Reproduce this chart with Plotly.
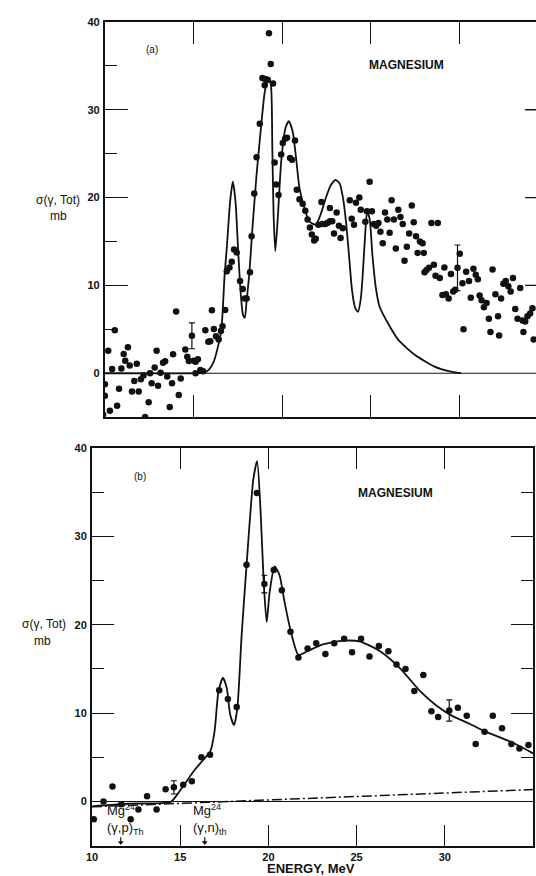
import plotly.graph_objects as go

W, H = 536, 876

# ---------------- Panel (a) data ----------------
a_energy = [9.9, 10.0, 10.0, 10.28, 10.19, 10.56, 10.41, 10.69, 10.8, 10.93, 11.06, 11.15, 11.3, 11.4,
            11.53, 11.66, 11.8, 11.91, 12.03, 12.18, 12.27, 12.47, 12.55, 12.64, 12.81, 12.92, 13.0,
            13.14, 13.28, 13.4, 13.52, 13.66, 13.79, 13.85, 14.02, 14.17, 14.28, 14.54, 14.65, 14.74,
            15.02, 15.12, 15.25, 15.12, 15.39, 15.54, 15.67, 15.84, 15.95, 16.04, 16.15, 16.27, 16.42,
            16.55, 16.64, 16.79,
            16.88, 17.03, 17.16, 17.29, 17.44, 17.63, 17.78, 17.9, 18.0, 18.19, 18.28, 18.43, 18.56,
            18.74, 18.89, 19.04, 19.19, 19.02, 19.49, 19.26, 19.36, 19.58, 19.67, 19.8, 19.95, 20.04,
            20.17, 20.28, 20.45, 20.56, 20.73,
            20.83, 20.98, 21.16, 21.31, 21.44, 21.57, 21.68, 21.81, 21.9, 22.05, 22.22, 22.28, 22.43,
            22.56, 22.7, 22.83, 22.7, 22.93, 23.08, 23.21, 23.3, 23.43, 23.82, 23.93, 24.06, 24.17,
            24.36, 24.44, 24.7, 24.79, 24.94, 25.07, 25.18, 25.31, 25.44, 25.55, 25.68, 25.81, 25.94,
            26.07, 26.18, 26.31, 26.42, 26.56, 26.68, 26.81, 26.91, 27.04, 27.17, 27.32, 27.43, 27.56,
            27.65, 27.78, 27.93, 28.0, 28.04, 28.15, 28.29, 28.43, 28.57, 28.66, 28.79, 28.9, 29.05,
            29.16, 29.25, 29.4, 29.53, 29.66, 29.77, 30.03, 30.18, 30.24, 30.39, 30.55, 30.65, 30.8,
            30.93, 31.05, 31.15, 31.26, 31.39, 31.54, 31.67, 31.76, 31.88, 32.04, 32.19, 32.25, 32.36,
            32.49, 32.62, 32.77, 32.9, 33.03, 33.16, 33.29, 33.44, 33.57, 33.62, 33.72, 33.85, 34.0,
            34.13, 34.2]
a_sigma = [-4.7, -1.25, -2.56, -4.26, 2.56, 4.9, 0.49, -3.7, -1.77, 0.53, 2.18, 1.43, 2.97, 0.87,
           -2.07, -0.87, 1.09, -2.07, -0.68, -0.26, -4.97, -3.31, 0.0, -1.13, 0.64, 2.56, -1.43,
           0.07, 1.2, 1.36, -0.38, -3.84, -1.13, 2.15, 7.04, -2.49, -0.6, 2.71, 1.88, 1.39,
           1.43, 1.32, 1.58, 0.0, 0.38, 0.23, 4.9, 3.58, 3.65, 7.16, 5.05, 4.22, 3.84,
           4.82, 5.35, 7.2,
           11.6, 12.05, 12.7, 14.1, 13.75, 10.5, 9.6, 8.5, 8.5, 11.5, 15.6, 20.45, 24.6,
           28.4, 33.6, 33.5, 33.4, 32.8, 33.0, 38.7, 35.2, 24.0, 21.5, 20.3, 24.9, 26.2,
           26.7, 26.8, 24.5, 24.3, 26.5,
           20.9, 19.8, 19.3, 18.5, 17.5, 16.6, 15.8, 15.1, 15.3, 16.9, 19.5, 17.0, 17.0,
           17.1, 17.3, 17.3, 18.8, 15.9, 18.3, 16.8, 15.4, 16.5, 19.7, 17.6, 16.9, 19.4,
           20.0, 18.6, 17.25, 18.45, 21.8, 18.45, 17.0, 16.8, 17.1, 16.1, 14.8, 18.3, 17.5,
           16.0, 19.7, 17.5, 14.2, 18.6, 17.8, 17.0, 12.8, 14.4, 15.9, 19.1, 17.2, 15.6,
           13.7, 15.0, 14.8, 13.7, 11.5, 11.75, 12.0, 17.1, 12.35, 11.1, 17.1, 10.85, 8.9,
           12.05, 9.0, 8.5, 11.3, 9.3, 9.5, 13.6, 10.25, 5.0, 11.55, 10.5, 8.6, 11.9,
           11.2, 10.7, 8.85, 8.3, 7.5, 8.0, 6.2, 4.7, 11.8, 9.0, 6.5, 4.3, 8.5,
           10.2, 10.5, 9.9, 9.3, 10.85, 7.3, 6.2, 9.7, 6.0, 4.7, 5.9, 6.5, 6.8,
           7.4, 3.85]
a_err_energy = [14.91, 29.9]
a_err_sigma = [4.26, 12.0]
a_err_size = [1.47, 2.6]

a_curve_energy = [10.0, 15.3, 15.58, 15.86, 16.14, 16.38, 16.57, 16.66, 16.75, 16.88, 17.07, 17.22,
                  17.37, 17.53, 17.68, 17.8, 17.9, 18.0, 18.15, 18.33, 18.56, 18.84, 19.02, 19.15,
                  19.26, 19.36, 19.45, 19.52, 19.62, 19.77, 19.95, 20.19, 20.38, 20.6, 20.79,
                  20.98, 21.26, 21.53, 21.9, 22.18, 22.46, 22.75, 23.02, 23.25, 23.45, 23.62,
                  23.77, 23.95, 24.13, 24.29, 24.45, 24.56, 24.68, 24.8, 24.94, 25.1, 25.3, 25.5,
                  26.0, 26.56, 27.49, 28.6, 29.6, 30.1]
a_curve_sigma = [0.0, 0.0, 0.05, 0.38, 1.3, 3.0, 4.9, 7.5, 11.0, 14.3, 19.6, 21.8,
                 19.6, 13.6, 8.7, 6.6, 6.3, 8.3, 11.3, 16.6, 22.6, 28.6, 32.0, 33.1,
                 33.3, 33.0, 25.6, 18.1, 13.9, 18.1, 24.1, 27.9, 28.7, 27.5, 24.5,
                 21.1, 18.8, 17.3, 16.9, 18.1, 19.9, 21.4, 22.0, 21.6, 19.8, 17.0,
                 13.6, 9.4, 7.4, 7.0, 8.6, 11.5, 15.5, 18.4, 17.6, 13.4, 9.6, 7.6,
                 5.6, 3.8, 2.1, 0.75, 0.15, 0.0]

# ---------------- Panel (b) data ----------------
b_energy = [10.1, 10.65, 11.16, 11.66, 12.19, 12.63, 13.12, 13.66, 14.17, 15.17, 15.66, 16.2, 16.69,
            17.21, 17.7, 18.2, 18.76, 19.34, 20.3, 20.76, 21.25, 21.7, 22.22, 22.71, 23.23, 23.73,
            24.29, 24.74, 25.25, 25.73, 26.26, 26.8, 27.26, 27.77, 28.27, 28.78, 29.24, 29.62,
            30.74, 31.24, 31.75, 32.25, 32.72, 33.24, 33.77, 34.23, 34.74]
b_sigma = [-2.0, 0.0, 1.7, -0.3, -2.0, -0.9, 0.6, -0.9, 1.4, 1.9, 2.3, 5.0, 5.3,
           12.6, 11.6, 10.7, 26.8, 34.9, 26.2, 23.9, 19.2, 16.3, 17.3, 17.9, 16.7, 17.9,
           18.4, 16.9, 18.4, 16.4, 17.6, 17.0, 15.5, 15.0, 12.5, 14.3, 10.2, 9.55,
           10.6, 9.7, 6.5, 7.9, 9.7, 8.3, 6.5, 6.0, 6.4]
b_err_energy = [14.64, 19.77, 30.25]
b_err_sigma = [1.6, 24.6, 10.3]
b_err_size = [0.75, 1.0, 1.2]

b_curve_energy = [10.0, 12.0, 14.45, 14.8, 15.12, 15.5, 15.87, 16.3, 16.71, 16.95, 17.17, 17.42,
                  17.64, 17.83, 18.05, 18.24, 18.48, 18.76, 19.14, 19.36, 19.55, 19.74, 19.9,
                  20.07, 20.35, 20.63, 20.91, 21.25, 21.7, 22.22, 22.97, 23.6, 24.27, 25.21, 26.33,
                  27.45, 28.57, 29.5, 30.44, 31.4, 32.31, 33.8, 35.0]
b_curve_sigma = [-0.55, -0.25, -0.05, 0.7, 1.6, 2.7, 3.7, 4.7, 5.7, 8.0, 12.5, 14.0,
                 12.8, 9.85, 8.65, 10.6, 18.8, 26.7, 36.4, 38.5, 33.1, 24.5, 20.3,
                 23.7, 26.6, 25.6, 22.6, 19.4, 16.6, 17.0, 17.7, 18.0, 18.2, 18.1, 17.0,
                 15.1, 12.55, 10.9, 9.66, 8.8, 7.9, 6.7, 5.45]

b_base_energy = [10.0, 35.0]
b_base_sigma = [-0.6, 1.35]

thresh_energy = [11.63, 16.39]
thresh_labels = ["Mg<sup>24</sup><br>(γ,p)<sub>Th</sub>", "Mg<sup>24</sup><br>(γ,n)<sub>th</sub>"]

y_ticks = [0, 10, 20, 30, 40]
a_x_ticks = [15, 20, 25, 30]
b_x_ticks = [10, 15, 20, 25, 30, 35]

# ---------------- layout helpers ----------------
def fx(p):
    return p / W

def fy(p):
    return 1 - p / H

FONT = "Liberation Sans"
BLACK = "#111111"

fig = go.Figure()

marker = dict(color=BLACK, size=6.5)
err_style = dict(type="data", visible=True, color=BLACK, thickness=1.2, width=3)

# panel a
fig.add_trace(go.Scatter(x=a_curve_energy, y=a_curve_sigma, mode="lines",
                         line=dict(color=BLACK, width=1.8, shape="spline", smoothing=0.6),
                         xaxis="x", yaxis="y", showlegend=False, hoverinfo="skip"))
fig.add_trace(go.Scatter(x=a_energy, y=a_sigma, mode="markers", marker=marker,
                         xaxis="x", yaxis="y", showlegend=False))
fig.add_trace(go.Scatter(x=a_err_energy, y=a_err_sigma, mode="markers", marker=marker,
                         error_y=dict(array=a_err_size, **err_style),
                         xaxis="x", yaxis="y", showlegend=False))

# panel b
fig.add_trace(go.Scatter(x=b_base_energy, y=b_base_sigma, mode="lines",
                         line=dict(color=BLACK, width=1.5, dash="10px,3px,2px,3px"),
                         xaxis="x2", yaxis="y2", showlegend=False, hoverinfo="skip"))
fig.add_trace(go.Scatter(x=b_curve_energy, y=b_curve_sigma, mode="lines",
                         line=dict(color=BLACK, width=1.8, shape="spline", smoothing=0.6),
                         xaxis="x2", yaxis="y2", showlegend=False, hoverinfo="skip"))
fig.add_trace(go.Scatter(x=b_energy, y=b_sigma, mode="markers", marker=marker,
                         xaxis="x2", yaxis="y2", showlegend=False))
fig.add_trace(go.Scatter(x=b_err_energy, y=b_err_sigma, mode="markers", marker=marker,
                         error_y=dict(array=b_err_size, **err_style),
                         xaxis="x2", yaxis="y2", showlegend=False))

# threshold arrow heads (small downward triangles at the axis)
fig.add_trace(go.Scatter(x=thresh_energy, y=[-4.65] * len(thresh_energy), mode="markers",
                         marker=dict(symbol="triangle-down", size=5, color=BLACK),
                         xaxis="x2", yaxis="y2", showlegend=False, hoverinfo="skip"))

A_XMAX = 10 + (W - 100) / 17.92

tickfont = dict(family=FONT, size=11, color=BLACK, weight="bold")

fig.update_layout(
    width=W, height=H,
    margin=dict(l=0, r=0, t=0, b=0),
    paper_bgcolor="white", plot_bgcolor="white",
    showlegend=False,
    xaxis=dict(domain=[fx(100), 1.0], range=[10, A_XMAX], anchor="y",
               tickvals=a_x_ticks, ticks="inside", ticklen=22, tickwidth=1.3, tickcolor=BLACK,
               showticklabels=False, showline=True, linewidth=2, linecolor=BLACK,
               mirror="ticks", showgrid=False, zeroline=False),
    yaxis=dict(domain=[fy(414), fy(16)], range=[-5, 40], anchor="x",
               tickvals=y_ticks, ticks="inside", ticklen=23, tickwidth=1.3, tickcolor=BLACK,
               minor=dict(dtick=5, tick0=0, ticks="inside", ticklen=12, tickwidth=1.3,
                          tickcolor=BLACK, showgrid=False),
               tickfont=tickfont, ticklabelstandoff=1,
               showline=True, linewidth=2, linecolor=BLACK, mirror=False,
               showgrid=False, zeroline=False),
    xaxis2=dict(domain=[fx(87), fx(533)], range=[10, 35], anchor="y2",
                tickvals=b_x_ticks, ticks="inside", ticklen=21, tickwidth=1.3, tickcolor=BLACK,
                tickfont=tickfont, showline=True, linewidth=2, linecolor=BLACK,
                mirror="ticks", showgrid=False, zeroline=False),
    yaxis2=dict(domain=[fy(845.5), fy(445)], range=[-5, 40], anchor="x2",
                tickvals=y_ticks, ticks="inside", ticklen=22, tickwidth=1.3, tickcolor=BLACK,
                minor=dict(dtick=5, tick0=0, ticks="inside", ticklen=12, tickwidth=1.3,
                           tickcolor=BLACK, showgrid=False),
                tickfont=tickfont, ticklabelstandoff=1,
                showline=True, linewidth=2, linecolor=BLACK, mirror="ticks",
                showgrid=False, zeroline=False),
)

# zero lines
fig.add_shape(type="line", xref="x domain", yref="y", x0=0, x1=1, y0=0, y1=0,
              line=dict(color=BLACK, width=1.2))
fig.add_shape(type="line", xref="x2 domain", yref="y2", x0=0, x1=1, y0=0, y1=0,
              line=dict(color=BLACK, width=1.2))

# right-hand ticks of panel (a) (its right axis lies beyond the cropped edge)
for v in [10, 20, 30]:
    fig.add_shape(type="line", xref="x", yref="y",
                  x0=A_XMAX - 11 / 17.92, x1=A_XMAX, y0=v, y1=v,
                  line=dict(color=BLACK, width=1.3))

# threshold arrow stems
for e in thresh_energy:
    fig.add_shape(type="line", xref="x2", yref="y2", x0=e, x1=e, y0=-4.6, y1=-4.05,
                  line=dict(color=BLACK, width=1.2))

txt = dict(family=FONT, color=BLACK)
ann = []
ann.append(dict(x=fx(148), y=fy(44), text="(a)", font=dict(size=10, **txt)))
ann.append(dict(x=fx(405), y=fy(59), text="MAGNESIUM", font=dict(size=12, weight="bold", **txt)))
ann.append(dict(x=fx(136), y=fy(474), text="(b)", font=dict(size=10, **txt)))
ann.append(dict(x=fx(394), y=fy(490), text="MAGNESIUM", font=dict(size=12, weight="bold", **txt)))
ann.append(dict(x=fx(53), y=fy(195), text="σ(γ, Tot)", font=dict(size=12, **txt)))
ann.append(dict(x=fx(53), y=fy(211), text="mb", font=dict(size=12, **txt)))
ann.append(dict(x=fx(38), y=fy(622), text="σ(γ, Tot)", font=dict(size=12, **txt)))
ann.append(dict(x=fx(37), y=fy(639), text="mb", font=dict(size=12, **txt)))
ann.append(dict(x=fx(308), y=fy(868), text="ENERGY, MeV", font=dict(size=13, weight="bold", **txt)))
for a in ann:
    a.update(xref="paper", yref="paper", showarrow=False, xanchor="center", yanchor="middle")

for e, lab in zip(thresh_energy, thresh_labels):
    ann.append(dict(x=e, y=-5, xref="x2", yref="y2", text=lab, showarrow=False,
                    xanchor="center", yanchor="bottom", yshift=7, xshift=5,
                    font=dict(size=13, **txt), align="left"))

fig.update_layout(annotations=ann)

fig.write_html("out.html")
